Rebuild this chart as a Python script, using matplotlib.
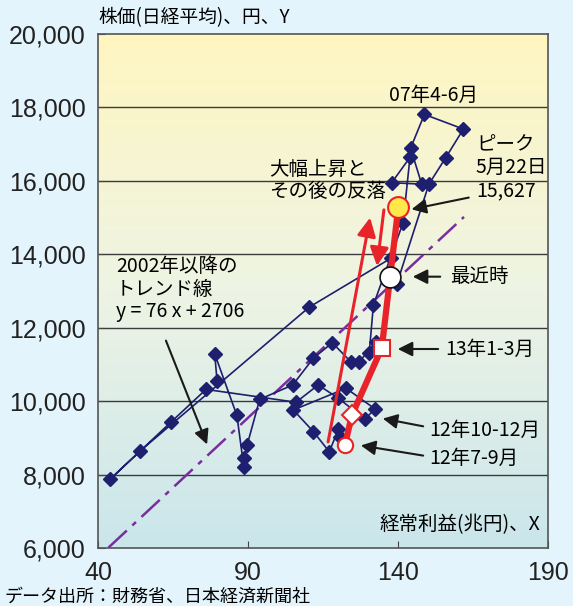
import matplotlib.pyplot as plt
import numpy as np
from matplotlib.colors import LinearSegmentedColormap

plt.rcParams['font.family'] = ['Noto Sans CJK JP', 'DejaVu Sans']

# Quarterly points, 2002 1-3月 to 2012 4-6月 (経常利益 兆円, 日経平均 円)
profit = [79.7, 78.9, 86.3, 88.6, 88.8, 89.7, 93.9, 104.9, 111.8, 118.1,
          124.3, 127.1, 132.6, 130.4, 131.8, 141.7, 144.0, 137.9, 147.9, 144.2,
          148.8, 161.8, 155.9, 150.3, 139.6, 137.6, 110.4, 54.0, 44.0, 64.2,
          76.0, 106.0, 113.4, 120.1, 129.0, 132.3, 122.7, 105.1, 111.8, 117.1,
          120.1, 120.7]
nikkei = [10540, 11290, 9610, 8210, 8460, 8800, 10050, 10440, 11170, 11590,
          11070, 11070, 11620, 11300, 12620, 14860, 16640, 15950, 15910, 16890,
          17810, 17410, 16630, 15910, 13190, 13890, 12560, 8640, 7870, 9420,
          10320, 9970, 10440, 10080, 9510, 9790, 10350, 9760, 9170, 8620,
          9230, 9030]

# recent moves: 12年7-9月, 12年10-12月, 13年1-3月, peak (5月22日)
recent_profit = [122.3, 124.6, 134.6, 140.1]
recent_nikkei = [8800, 9610, 11450, 15280]
latest_profit = 137.3
latest_nikkei = 13390

# trend line since 2002: y = 76 x + 2706
trend_slope = 76
trend_icept = 2706
trend_x = [43.5, 162]

navy = '#1E1F6E'
red = '#E8242A'

fig = plt.figure(figsize=(5.73, 6.06), dpi=100)
fig.patch.set_facecolor('#E4F4FC')
ax = fig.add_axes([98 / 573, 58 / 606, 450 / 573, 514 / 606])

# background gradient
cmap = LinearSegmentedColormap.from_list('bg', ['#CAE6EC', '#EEF4E4', '#FFF6C0'])
grad = np.linspace(0, 1, 256).reshape(-1, 1)
ax.imshow(grad, extent=[40, 190, 6000, 20000], aspect='auto', cmap=cmap,
          origin='lower', zorder=0)
for yv in range(8000, 20000, 2000):
    ax.axhline(yv, color='#3A3A3A', lw=1.0, zorder=1)

# trend line
tx = np.array(trend_x)
ax.plot(tx, trend_slope * tx + trend_icept, color='#7A2E9E', lw=1.8,
        dashes=(10, 3, 2, 3), zorder=2)

# quarterly path
ax.plot(profit, nikkei, color=navy, lw=1.2, marker='D', ms=6.8,
        mfc=navy, mec=navy, zorder=3)

# recent thick red path
ax.plot(recent_profit, recent_nikkei, color=red, lw=4.5, zorder=4,
        solid_capstyle='butt')

# red up / down arrows
arrow_r = dict(arrowstyle='-|>', color=red, lw=2.2, mutation_scale=28,
               shrinkA=0, shrinkB=0)
ax.annotate('', xy=(130.7, 15000), xytext=(116.7, 8890), arrowprops=arrow_r,
            zorder=4)
ax.annotate('', xy=(133.0, 13680), xytext=(135.3, 15210), arrowprops=arrow_r,
            zorder=4)

# special markers
ax.plot(recent_profit[0], recent_nikkei[0], 'o', ms=11, mfc='white', mec=red,
        mew=1.5, zorder=6)
ax.plot(recent_profit[1], recent_nikkei[1], 'D', ms=10.5, mfc='white', mec=red,
        mew=1.5, zorder=6)
ax.plot(recent_profit[2], recent_nikkei[2], 's', ms=12, mfc='white', mec=red,
        mew=1.5, zorder=6)
ax.plot(recent_profit[3], recent_nikkei[3], 'o', ms=15, mfc='#FFE94A', mec=red,
        mew=1.5, zorder=6)
ax.plot(latest_profit, latest_nikkei, 'o', ms=15, mfc='white', mec='#111111',
        mew=1.2, zorder=6)

# annotations
arrow_k = dict(arrowstyle='-|>', color='#1A1A1A', lw=1.5, mutation_scale=22)
tfs = 14
ax.text(152, 18340, '07年4-6月', fontsize=tfs, ha='center', va='center')
ax.text(166, 17260, 'ピーク\n5月22日\n15,627', fontsize=tfs, ha='left', va='top',
        linespacing=1.1)
ax.annotate('', xy=(143.6, 15210), xytext=(164.5, 15560), arrowprops=arrow_k)
ax.text(97.0, 16600, '大幅上昇と\nその後の反落', fontsize=tfs, ha='left', va='top',
        linespacing=1.1)
ax.text(157.3, 13390, '最近時', fontsize=tfs, ha='left', va='center')
ax.annotate('', xy=(144.0, 13390), xytext=(155.0, 13390), arrowprops=arrow_k)
ax.text(46.0, 13950, '2002年以降の\nトレンド線\ny = 76 x + 2706', fontsize=tfs,
        ha='left', va='top', linespacing=1.1)
ax.annotate('', xy=(76.7, 8750), xytext=(62.3, 11720), arrowprops=arrow_k)
ax.text(155.7, 11420, '13年1-3月', fontsize=tfs, ha='left', va='center')
ax.annotate('', xy=(139.0, 11420), xytext=(154.3, 11420), arrowprops=arrow_k)
ax.text(150.5, 9214, '12年10-12月', fontsize=tfs, ha='left', va='center')
ax.annotate('', xy=(134.0, 9540), xytext=(149.3, 9300), arrowprops=arrow_k)
ax.text(150.5, 8450, '12年7-9月', fontsize=tfs, ha='left', va='center')
ax.annotate('', xy=(126.7, 8805), xytext=(149.3, 8505), arrowprops=arrow_k)
ax.text(187.5, 6630, '経常利益(兆円)、X', fontsize=tfs, ha='right', va='center')

# axes
ax.set_xlim(40, 190)
ax.set_ylim(6000, 20000)
ax.set_xticks([40, 90, 140, 190])
ax.set_yticks(range(6000, 20001, 2000))
ax.set_yticklabels([f'{v:,}' for v in range(6000, 20001, 2000)])
ax.tick_params(direction='in', length=5, color='#444444', labelsize=18, pad=9)
for lab in ax.get_xticklabels() + ax.get_yticklabels():
    lab.set_family(['Liberation Sans', 'DejaVu Sans'])
    lab.set_color('#222222')
for sp in ax.spines.values():
    sp.set_color('#555555')
    sp.set_linewidth(1.2)

fig.text(98 / 573, 1 - 18 / 606, '株価(日経平均)、円、Y', fontsize=13.5,
         ha='left', va='center')
fig.text(4 / 573, 1 - 597 / 606, 'データ出所：財務省、日本経済新聞社', fontsize=13,
         ha='left', va='center')

fig.savefig('out.png', dpi=100, facecolor=fig.get_facecolor())
